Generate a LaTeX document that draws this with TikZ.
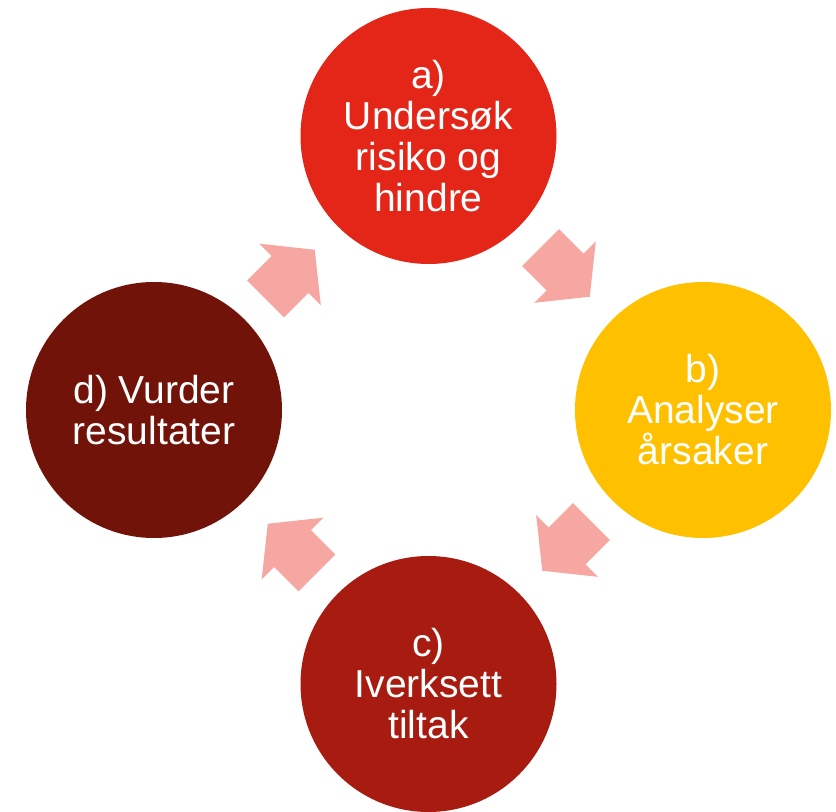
\documentclass[tikz,border=0pt]{standalone}
\usepackage{fontspec}
\setmainfont{Liberation Sans}
\definecolor{stagea}{HTML}{E32617}
\definecolor{stageb}{HTML}{FFC000}
\definecolor{stagec}{HTML}{A81B10}
\definecolor{staged}{HTML}{721309}
\definecolor{arrowpink}{HTML}{F6A7A1}
\tikzset{
  stage/.style={circle, minimum size=192pt, inner sep=0pt, text=white,
    font=\fontsize{29.25}{30.75}\selectfont, align=center},
  blockarrow/.pic={\fill[arrowpink] (-34.5,-26) -- (0,-26) -- (0,-43.6) -- (35,0)
     -- (0,43.6) -- (0,26) -- (-34.5,26) -- cycle;}
}
\begin{document}
\begin{tikzpicture}[x=0.75pt,y=-0.75pt]
\useasboundingbox (0,0) rectangle (836,812);
\node[stage, fill=stagea] (a) at (428.5,136) {a)\\Undersøk\\risiko og\\hindre};
\node[stage, fill=stageb] (b) at (703,410) {b)\\Analyser\\årsaker};
\node[stage, fill=stagec] (c) at (428.5,684) {c)\\Iverksett\\tiltak};
\node[stage, fill=staged] (d) at (154,410) {d) Vurder\\resultater};
\pic[rotate=-45] at (565,272) {blockarrow};
\pic[rotate=-135] at (567,546) {blockarrow};
\pic[rotate=135] at (292.5,548.5) {blockarrow};
\pic[rotate=45] at (290,274.5) {blockarrow};
\end{tikzpicture}
\end{document}
